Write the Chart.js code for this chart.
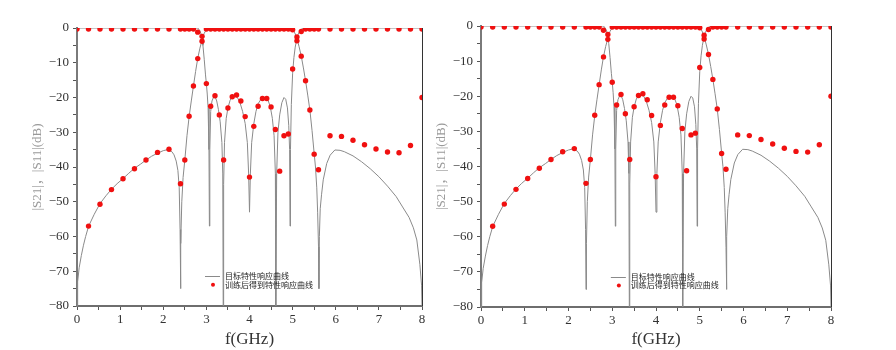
<!DOCTYPE html>
<html>
<head>
<meta charset="utf-8">
<script src="https://cdn.jsdelivr.net/npm/chart.js@4.4.1/dist/chart.umd.min.js"></script>
<style>
	html, body { margin: 0; padding: 0; background: #fff; }
	#wrap { position: relative; width: 896px; height: 350px; overflow: hidden; }
	canvas { position: absolute; top: 0; }
	#left-chart { left: 0; }
	#right-chart { left: 430px; }
</style>
</head>
<body>
<div id="wrap">
	<canvas id="left-chart" width="440" height="350"></canvas>
	<canvas id="right-chart" width="466" height="350"></canvas>
</div>
<script>
// target response, |S21| (GHz, dB)
const s21LineFreq = [0, 0.015, 0.05, 0.1, 0.15, 0.2, 0.27, 0.4, 0.53, 0.67, 0.8, 0.93, 1.07, 1.2, 1.33, 1.47, 1.6, 1.73, 1.87, 2.0, 2.1, 2.2, 2.25, 2.3, 2.34, 2.37, 2.39, 2.4, 2.41, 2.43, 2.46, 2.5, 2.55, 2.6, 2.65, 2.7, 2.75, 2.8, 2.85, 2.9, 2.95, 3.0, 3.05, 3.1, 4.9, 4.95, 5.0, 5.05, 5.1, 5.15, 5.2, 5.25, 5.3, 5.35, 5.4, 5.45, 5.5, 5.53, 5.56, 5.58, 5.6, 5.61, 5.62, 5.64, 5.67, 5.71, 5.79, 5.87, 5.98, 6.1, 6.2, 6.4, 6.6, 6.8, 7.0, 7.2, 7.4, 7.55, 7.7, 7.8, 7.88, 7.95, 7.99, 8.0];
const s21Line = [-80, -73, -69, -65.5, -62.5, -60, -57, -53.6, -50.6, -48.3, -46.4, -44.8, -43.3, -41.8, -40.4, -39.2, -38.0, -36.9, -36.0, -35.3, -35.0, -35.6, -36.5, -38.3, -41, -46, -58, -75, -62, -50, -43, -38, -31, -25.5, -21, -16.7, -12.5, -8.7, -5.8, -3.5, -1.5, -0.5, -0.1, 0, 0, -0.1, -0.5, -1.4, -3.0, -5.4, -8.1, -11.5, -15.2, -19.3, -23.6, -29.5, -36.2, -40, -46, -53, -63, -75, -60, -52, -48, -43.7, -39, -36.6, -35.1, -35.2, -35.6, -36.8, -38.5, -40.5, -42.8, -45.5, -48.5, -51.5, -54.5, -57.5, -61, -68, -74, -80];

// target response, |S11| (GHz, dB)
const s11LineFreq = [0, 2.8, 2.82, 2.85, 2.88, 2.9, 2.92, 2.95, 2.98, 3.0, 3.02, 3.04, 3.06, 3.07, 3.08, 3.1, 3.13, 3.17, 3.2, 3.24, 3.28, 3.32, 3.36, 3.38, 3.39, 3.4, 3.42, 3.46, 3.5, 3.55, 3.6, 3.66, 3.72, 3.78, 3.84, 3.9, 3.95, 3.98, 4.0, 4.02, 4.05, 4.1, 4.15, 4.2, 4.27, 4.35, 4.42, 4.48, 4.53, 4.57, 4.6, 4.61, 4.63, 4.66, 4.7, 4.75, 4.8, 4.84, 4.88, 4.91, 4.93, 4.94, 4.95, 4.97, 5.0, 5.03, 5.06, 5.1, 5.13, 5.17, 5.22, 5.3, 8.0];
const s11Line = [0, 0, -0.3, -0.8, -1.8, -2.8, -5, -9, -13.5, -16, -19, -23, -35, -57, -35, -24, -21, -19.8, -19.7, -21, -23.5, -27, -33, -42, -80, -45, -33, -26, -23, -20.8, -19.8, -19.4, -20, -21.5, -24, -27.5, -33, -42, -53, -42, -33, -27.5, -24, -21.8, -20.4, -20.0, -20.5, -22.5, -26, -31, -42, -80, -42, -30, -25, -21.5, -20, -20.5, -23, -28, -35, -57, -35, -22, -13, -8.5, -5.5, -3, -1.8, -0.8, -0.2, 0, 0];

// trained response, sampled points
const dotFreq = [0, 0.267, 0.533, 0.8, 1.067, 1.333, 1.6, 1.867, 2.133, 2.4, 2.5, 2.6, 2.7, 2.8, 2.9, 3.0, 3.1, 3.2, 3.3, 3.4, 3.5, 3.6, 3.7, 3.8, 3.9, 4.0, 4.1, 4.2, 4.3, 4.4, 4.5, 4.6, 4.7, 4.8, 4.9, 5.0, 5.1, 5.2, 5.3, 5.4, 5.5, 5.6, 5.867, 6.133, 6.4, 6.667, 6.933, 7.2, 7.467, 7.733, 8.0];
const s21Dots = [null, -57.0, -50.7, -46.5, -43.4, -40.5, -38.0, -35.8, -34.9, -44.8, -38.0, -25.4, -16.7, -8.8, -3.8, -0.3, -0.3, -0.3, -0.3, -0.3, -0.3, -0.3, -0.3, -0.3, -0.3, -0.3, -0.3, -0.3, -0.3, -0.3, -0.3, -0.3, -0.3, -0.3, -0.3, -0.5, -2.6, -8.1, -15.2, -23.6, -36.3, -40.8, -31.0, -31.2, -32.3, -33.6, -34.8, -35.7, -35.9, -33.8, -20.0];
const s11Dots = [-0.3, -0.3, -0.3, -0.3, -0.3, -0.3, -0.3, -0.3, -0.3, -0.3, -0.3, -0.3, -0.3, -1.2, -2.4, -16.0, -22.5, -19.5, -25.0, -38.0, -23.0, -19.8, -19.3, -21.0, -25.5, -42.9, -28.3, -22.5, -20.3, -20.3, -22.7, -29.2, -41.2, -31.0, -30.5, -11.8, -3.7, -1.0, -0.3, -0.3, -0.3, -0.3, -0.3, -0.3, -0.3, -0.3, -0.3, -0.3, -0.3, -0.3, -0.3];

const legendLabels = ['目标特性响应曲线', '训练后得到特性响应曲线'];
const xTitle = 'f(GHz)';
const yTitle = '|S21|，|S11|(dB)';

const lineGray = '#8a8a8a';
const dotRed = '#f01010';
const serif = '"Liberation Serif", "Noto Sans CJK SC", serif';

const toPoints = (xs, ys) => xs.map((x, i) => ({ x, y: ys[i] }));

// right frame line + legend drawn inside the plot area
const framePlugin = {
	id: 'frame',
	afterDatasetsDraw(chart) {
		const { ctx, chartArea: a } = chart;
		ctx.save();
		ctx.strokeStyle = '#333';
		ctx.lineWidth = 1;
		ctx.beginPath();
		ctx.moveTo(a.right + 0.5, a.top);
		ctx.lineTo(a.right + 0.5, a.bottom);
		ctx.stroke();

		const lx = a.left + a.width * 0.371;
		const ly = a.top + a.height * 0.893;
		ctx.strokeStyle = lineGray;
		ctx.beginPath();
		ctx.moveTo(lx, Math.round(ly) + 0.5);
		ctx.lineTo(lx + 15, Math.round(ly) + 0.5);
		ctx.stroke();
		ctx.fillStyle = dotRed;
		ctx.beginPath();
		ctx.arc(lx + 8, ly + 8.5, 2, 0, Math.PI * 2);
		ctx.fill();
		ctx.fillStyle = '#222';
		ctx.font = '8px "Noto Sans CJK SC"';
		ctx.textBaseline = 'middle';
		ctx.fillText(legendLabels[0], lx + 20, ly);
		ctx.fillText(legendLabels[1], lx + 20, ly + 8.5);
		ctx.restore();
	},
};

function makeChart(id, box) {
	const ctx = document.getElementById(id);
	return new Chart(ctx, {
		type: 'scatter',
		data: {
			datasets: [
				{ data: toPoints(dotFreq, s21Dots), pointRadius: 2.7, pointBackgroundColor: dotRed, pointBorderWidth: 0, showLine: false },
				{ data: toPoints(dotFreq, s11Dots), pointRadius: 2.7, pointBackgroundColor: dotRed, pointBorderWidth: 0, showLine: false },
				{ data: toPoints(s21LineFreq, s21Line), showLine: true, borderColor: lineGray, borderWidth: 1, pointRadius: 0, tension: 0 },
				{ data: toPoints(s11LineFreq, s11Line), showLine: true, borderColor: lineGray, borderWidth: 1, pointRadius: 0, tension: 0 },
			],
		},
		options: {
			responsive: false,
			animation: false,
			devicePixelRatio: 1,
			layout: { padding: { top: box.top, right: box.right, left: 0, bottom: 0 } },
			plugins: {
				legend: { display: false },
				tooltip: { enabled: false },
			},
			scales: {
				x: {
					type: 'linear',
					min: 0,
					max: 8,
					afterFit: (s) => { s.height = box.xHeight; },
					grid: { drawOnChartArea: false, drawTicks: true, tickLength: 4, tickColor: '#555' },
					border: { display: true, color: '#6e6e6e', width: 2 },
					ticks: {
						stepSize: 0.5,
						autoSkip: false,
						maxRotation: 0,
						padding: 2,
						color: '#333',
						font: { family: serif, size: 13 },
						callback: (v) => (Number.isInteger(v) ? String(v) : ''),
					},
					title: { display: true, text: xTitle, color: '#333', font: { family: serif, size: 17 }, padding: 0 },
				},
				y: {
					min: -80,
					max: 0,
					afterFit: (s) => { s.width = box.yWidth; },
					grid: { drawOnChartArea: false, drawTicks: true, tickLength: 4, tickColor: '#555' },
					border: { display: true, color: '#7a7a7a', width: 2 },
					ticks: {
						stepSize: 5,
						autoSkip: false,
						padding: 4,
						color: '#333',
						font: { family: serif, size: 13 },
						callback: (v) => (v % 10 === 0 ? (v < 0 ? '\u2212' + Math.abs(v) : String(v)) : ''),
					},
					title: { display: true, text: yTitle, color: '#999', font: { family: serif, size: 13 }, padding: { top: box.titlePad, bottom: 0 } },
				},
			},
		},
		plugins: [framePlugin],
	});
}

makeChart('left-chart', { top: 28, right: 18, xHeight: 44, yWidth: 77, titlePad: 30 });
makeChart('right-chart', { top: 26, right: 65, xHeight: 43, yWidth: 51, titlePad: 4 });
</script>
</body>
</html>
